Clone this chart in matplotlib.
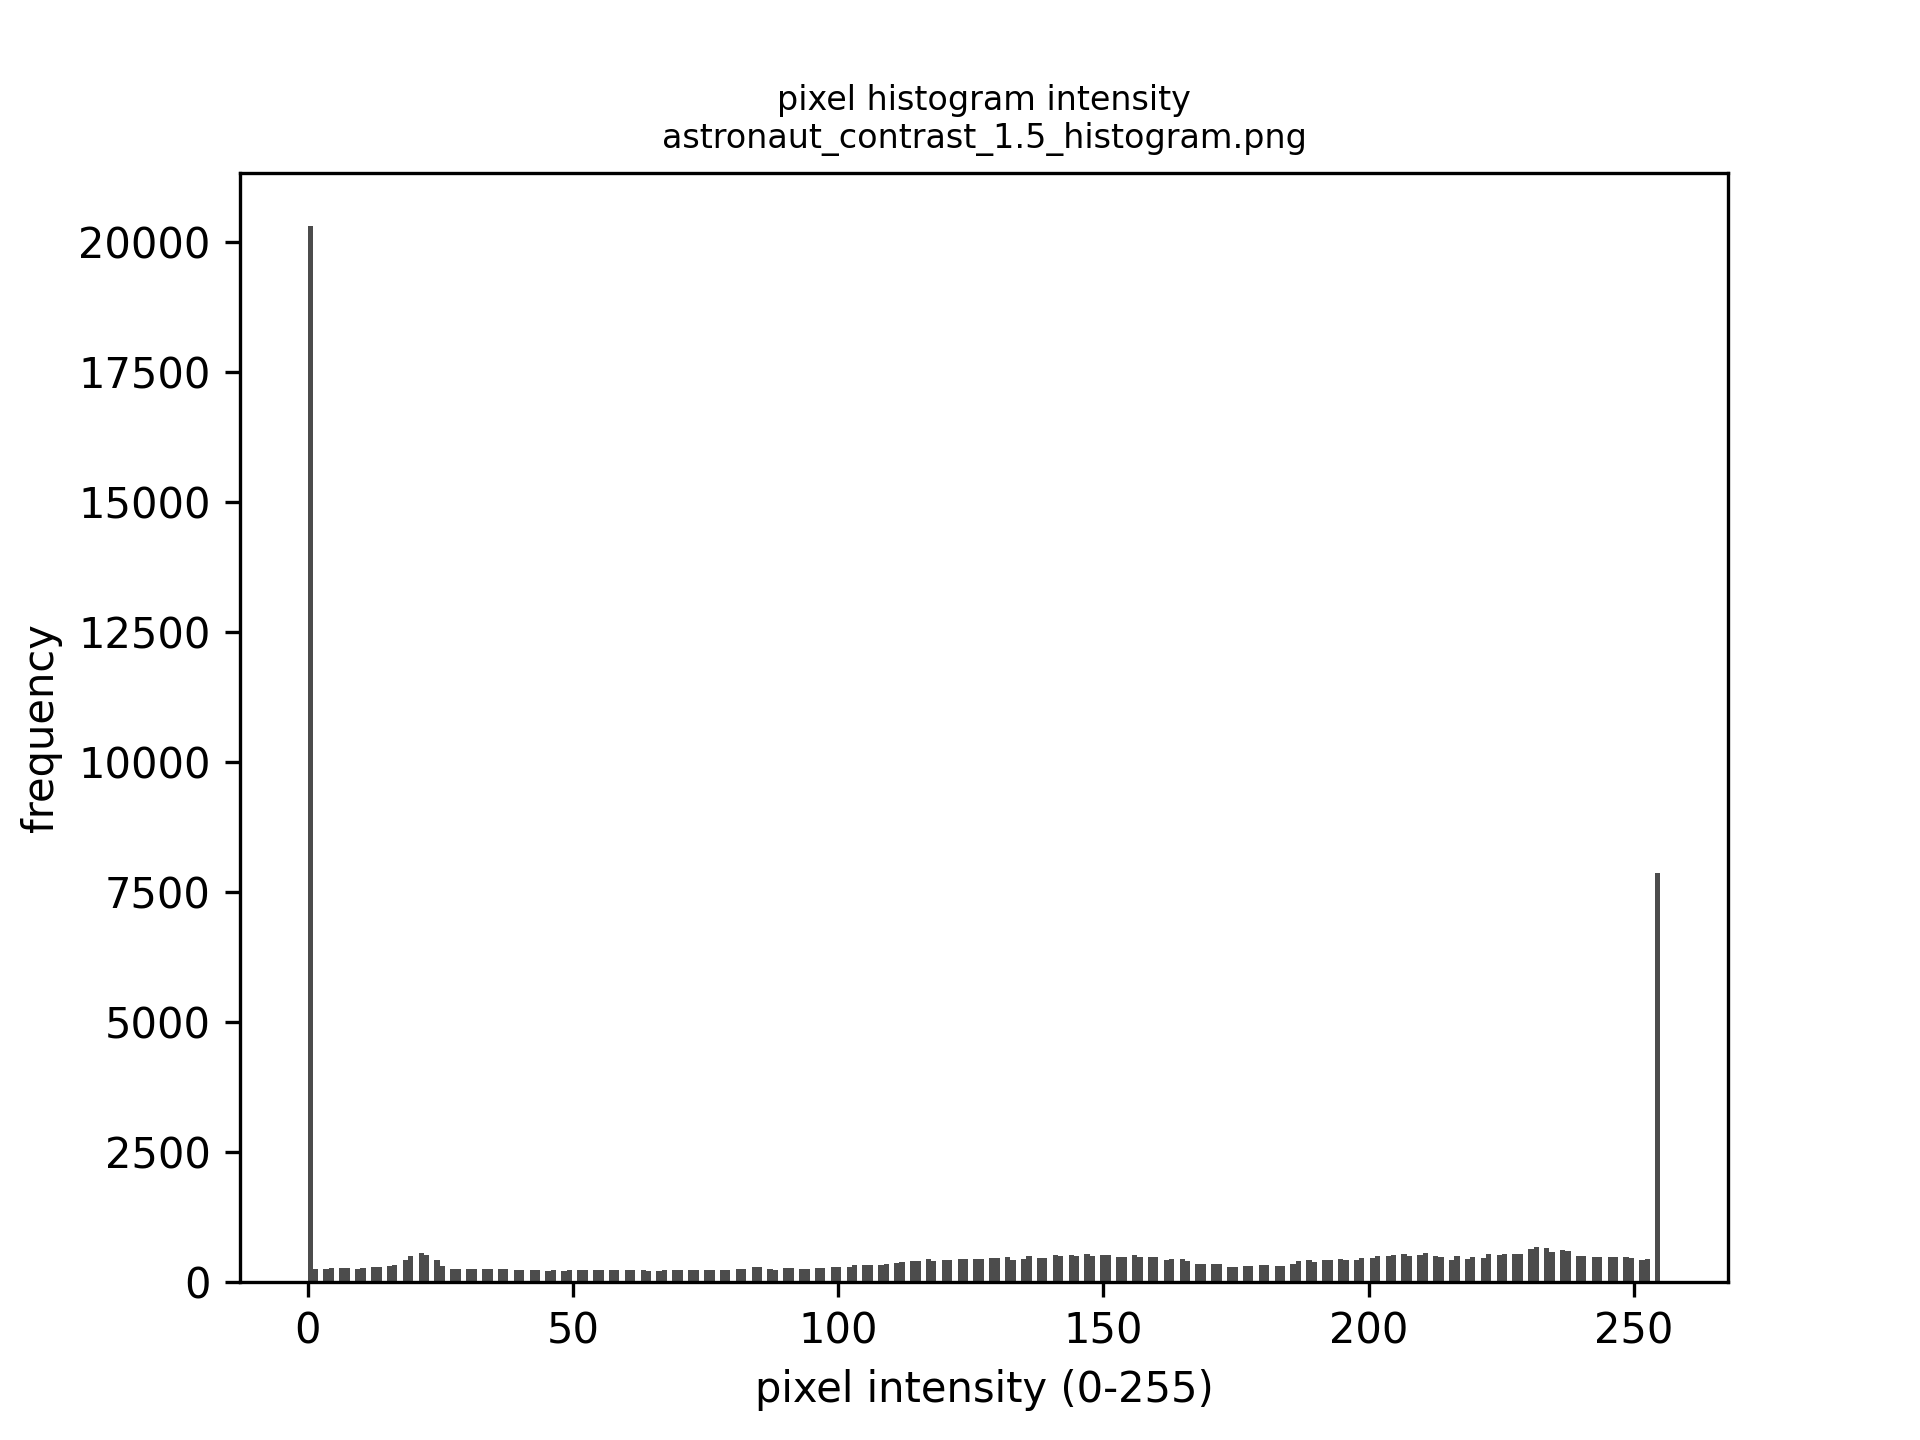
import matplotlib
matplotlib.use("Agg")
import matplotlib.pyplot as plt

# pixel levels that occur after the 1.5 contrast stretch (every third level is empty)
levels = [v for v in range(256) if v % 3 != 2]

# counts per level
counts = [
    20320, 250,
    237, 263, 263, 263, 237, 263, 288, 288, 308, 327, 423, 500, 558, 519,
    423, 308, 250, 250, 237, 237, 237, 250, 250, 237, 231, 231,
    231, 231, 212, 224, 212, 231, 218, 218, 218, 218, 231, 231, 231, 231,
    231, 212, 212, 224, 231, 231, 231, 231, 218, 218, 218, 231, 250, 250,
    276, 276,
    237, 218, 256, 269, 237, 237, 269, 269, 276, 288, 288, 327, 314, 327,
    314, 346, 365, 385, 404, 404, 442, 391, 423, 410, 442, 436, 429, 442,
    462, 462, 481, 423, 429, 500, 462, 462, 519, 500, 519, 500, 538, 500,
    519, 519, 468, 481, 519, 481, 481, 481, 423, 442, 429, 404, 346, 346,
    346, 333, 288, 288, 295, 308, 327, 327, 308, 308, 346, 404, 423, 385,
    423, 423, 442, 423, 423, 462, 462, 500, 500, 519, 538, 500, 519, 558,
    500, 481, 423, 500, 442, 481, 462, 538, 519, 538, 538, 538, 635, 673,
    654, 577, 615, 596, 500, 500, 481, 481, 474, 481, 481, 462, 423, 442,
    7870,
]

title = "pixel histogram intensity\nastronaut_contrast_1.5_histogram.png"

fig, ax = plt.subplots(figsize=(6.4, 4.8), dpi=300)
ax.hist(levels, bins=256, range=(0, 255), weights=counts, color="black", alpha=0.7)
ax.set_title(title, fontsize=8)
ax.set_xlabel("pixel intensity (0-255)")
ax.set_ylabel("frequency")

plt.savefig("out.png", dpi=300)
